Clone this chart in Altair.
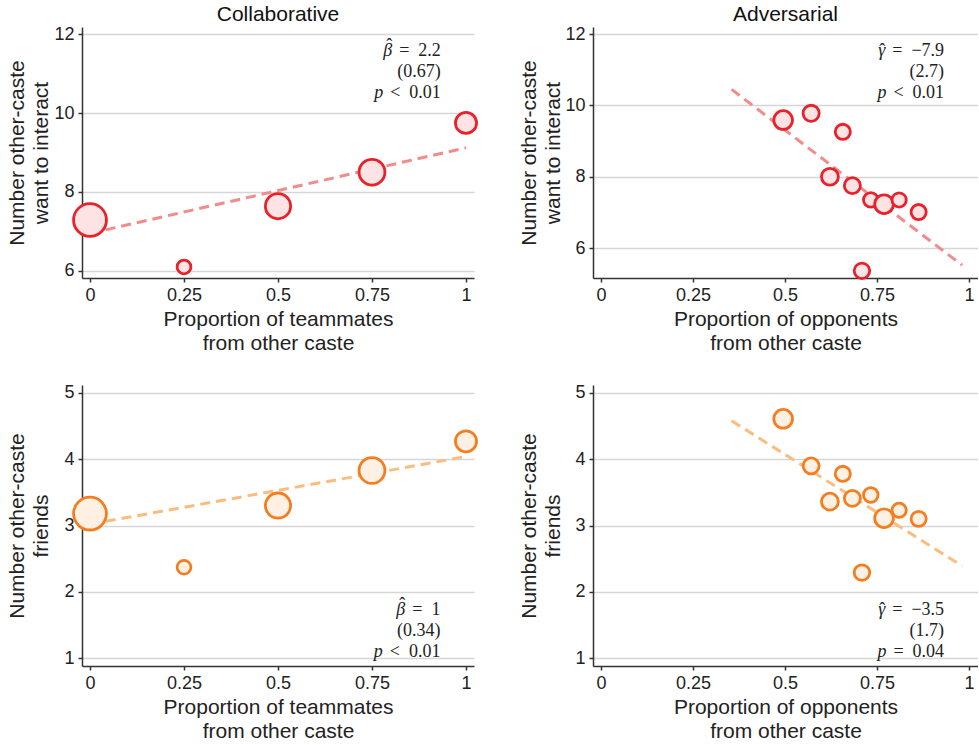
import altair as alt
import pandas as pd

# ---------------- data ----------------
collab_x = [0, 0.25, 0.5, 0.75, 1]
collab_interact = [7.29, 6.10, 7.64, 8.50, 9.75]
collab_friends = [3.18, 2.37, 3.30, 3.83, 4.27]
collab_n = [340, 60, 200, 210, 140]

adv_x = [0.495, 0.571, 0.622, 0.657, 0.683, 0.709, 0.733, 0.769, 0.810, 0.863]
adv_interact = [9.59, 9.78, 8.00, 9.26, 7.75, 5.36, 7.35, 7.23, 7.35, 7.01]
adv_friends = [4.61, 3.90, 3.36, 3.78, 3.41, 2.29, 3.46, 3.11, 3.23, 3.10]
adv_n = [110, 81, 90, 72, 81, 76, 67, 110, 64, 72]

# fitted lines (end points)
fit_collab_x = [0, 1]
fit_collab_interact = [6.95, 9.12]
fit_collab_friends = [3.02, 4.04]
fit_adv_x = [0.355, 0.981]
fit_adv_interact = [10.45, 5.52]
fit_adv_friends = [4.58, 2.39]

EN = "\u2002"
# regression annotations: (symbol, has_hat, rest)
ann_tl = [("β", True, "=" + EN + "2.2"), ("", False, "(0.67)"), ("p", False, "<" + EN + "0.01")]
ann_tr = [("γ", True, "=" + EN + "−7.9"), ("", False, "(2.7)"), ("p", False, "<" + EN + "0.01")]
ann_bl = [("β", True, "=" + EN + "1"), ("", False, "(0.34)"), ("p", False, "<" + EN + "0.01")]
ann_br = [("γ", True, "=" + EN + "−3.5"), ("", False, "(1.7)"), ("p", False, "=" + EN + "0.04")]

x_ticks = [0, 0.25, 0.5, 0.75, 1]
interact_ticks = [6, 8, 10, 12]
friends_ticks = [1, 2, 3, 4, 5]

RED = dict(stroke="#e8212b", fill="#fde3e3", line="#f28b8b")
ORANGE = dict(stroke="#f47e1f", fill="#fff0e4", line="#fbbd7e")

SANS = "Liberation Sans"
SERIF = "Liberation Serif"

# approximate Times widths (em) for placing the italic symbol
W = {"=": 0.564, " ": 0.25, ".": 0.25, "−": 0.564, "<": 0.564, EN: 0.5}


def text_width(s, size=18):
    return sum(W.get(c, 0.5) for c in s) * size


def panel(xs, ys, ns, fx, fy, xdom, ydom, yticks, col, xtitle, ytitle,
          width, height, ann, ann_x, ann_y, ytitle_x, title=None):
    df = pd.DataFrame({"x": xs, "y": ys, "n": ns})
    fit = pd.DataFrame({"x": fx, "y": fy})
    xscale = alt.Scale(domain=xdom, nice=False, zero=False)
    yscale = alt.Scale(domain=ydom, nice=False, zero=False)
    xaxis = alt.Axis(values=x_ticks, labelExpr="'' + datum.value", grid=False,
                     title=xtitle)
    yaxis = alt.Axis(values=yticks, labelExpr="'' + datum.value", grid=True,
                     title=ytitle, titleX=ytitle_x)

    line = alt.Chart(fit).mark_line(
        color=col["line"], strokeWidth=3, strokeDash=[10, 6]
    ).encode(
        x=alt.X("x:Q", scale=xscale, axis=xaxis),
        y=alt.Y("y:Q", scale=yscale, axis=yaxis),
    )
    pts = alt.Chart(df).mark_circle(
        fill=col["fill"], stroke=col["stroke"], strokeWidth=2.8, opacity=1,
        fillOpacity=1, strokeOpacity=1
    ).encode(
        x=alt.X("x:Q", scale=xscale),
        y=alt.Y("y:Q", scale=yscale),
        size=alt.Size("n:Q", scale=alt.Scale(domain=[0, 340], range=[0, 1080]),
                      legend=None),
    )
    layers = [line, pts]
    for i, (sym, hat, rest) in enumerate(ann):
        adf = pd.DataFrame({"x": [ann_x], "y": [ann_y[i]], "t": [rest]})
        layers.append(
            alt.Chart(adf).mark_text(
                align="right", baseline="alphabetic", font=SERIF, fontSize=18,
                color="#222"
            ).encode(x="x:Q", y="y:Q", text="t:N")
        )
        if sym:
            sdx = -(text_width(rest) + 7)
            sdf = pd.DataFrame({"x": [ann_x], "y": [ann_y[i]], "t": [sym]})
            layers.append(
                alt.Chart(sdf).mark_text(
                    align="right", baseline="alphabetic", font=SERIF,
                    fontSize=18, fontStyle="italic", color="#222", dx=sdx
                ).encode(x="x:Q", y="y:Q", text="t:N")
            )
            if hat:
                hdf = pd.DataFrame({"x": [ann_x], "y": [ann_y[i]], "t": ["ˆ"]})
                layers.append(
                    alt.Chart(hdf).mark_text(
                        align="center", baseline="alphabetic", font=SERIF,
                        fontSize=18, color="#222", dx=sdx - 3,
                        dy=-5 if sym == "β" else 0
                    ).encode(x="x:Q", y="y:Q", text="t:N")
                )
    ch = alt.layer(*layers).properties(width=width, height=height)
    if title:
        ch = ch.properties(title=alt.TitleParams(
            title, fontSize=21, font=SANS, fontWeight="normal", color="#111",
            anchor="middle", offset=0))
    return ch


x_left = [-0.0213, 1.0213]
x_right = [-0.0215, 1.0242]
xt_team = ["Proportion of teammates", "from other caste"]
xt_opp = ["Proportion of opponents", "from other caste"]
yt_int = ["Number other-caste", "want to interact"]
yt_fr = ["Number other-caste", "friends"]

LW, RW = 392, 385

tl = panel(collab_x, collab_interact, collab_n, fit_collab_x, fit_collab_interact,
           x_left, [5.82, 12.18], interact_ticks, RED, xt_team, yt_int, LW, 251,
           ann_tl, 0.933, [11.44, 10.91, 10.38], -55, title="Collaborative")
tr = panel(adv_x, adv_interact, adv_n, fit_adv_x, fit_adv_interact,
           x_right, [5.16, 12.2], interact_ticks, RED, xt_opp, yt_int, RW, 251,
           ann_tr, 0.932, [11.38, 10.79, 10.21], -54, title="Adversarial")
bl = panel(collab_x, collab_friends, collab_n, fit_collab_x, fit_collab_friends,
           x_left, [0.88, 5.12], friends_ticks, ORANGE, xt_team, yt_fr, LW, 281,
           ann_bl, 0.932, [1.65, 1.33, 1.01], -55)
br = panel(adv_x, adv_friends, adv_n, fit_adv_x, fit_adv_friends,
           x_right, [0.88, 5.12], friends_ticks, ORANGE, xt_opp, yt_fr, RW, 281,
           ann_br, 0.932, [1.65, 1.33, 1.01], -54)

row1 = alt.hconcat(tl, tr, spacing=34).resolve_scale(size="independent")
row2 = alt.hconcat(bl, br, spacing=34).resolve_scale(size="independent")

chart = alt.vconcat(row1, row2, spacing=30).properties(
    padding={"left": 5, "top": 4, "right": 0, "bottom": 0},
    background="white"
).configure_view(strokeWidth=0).configure_axis(
    domainColor="#333", domainWidth=1.5, tickColor="#333", tickSize=4,
    tickWidth=1.5, gridColor="#d6d6d6", gridWidth=1.5,
    labelFont=SANS, labelFontSize=18, labelColor="#222", labelPadding=4,
    titleFont=SANS, titleFontSize=21, titleFontWeight="normal",
    titleColor="#222", titlePadding=4, titleLineHeight=24
)

chart.save("out.html", embed_options={"renderer": "svg", "actions": False})
